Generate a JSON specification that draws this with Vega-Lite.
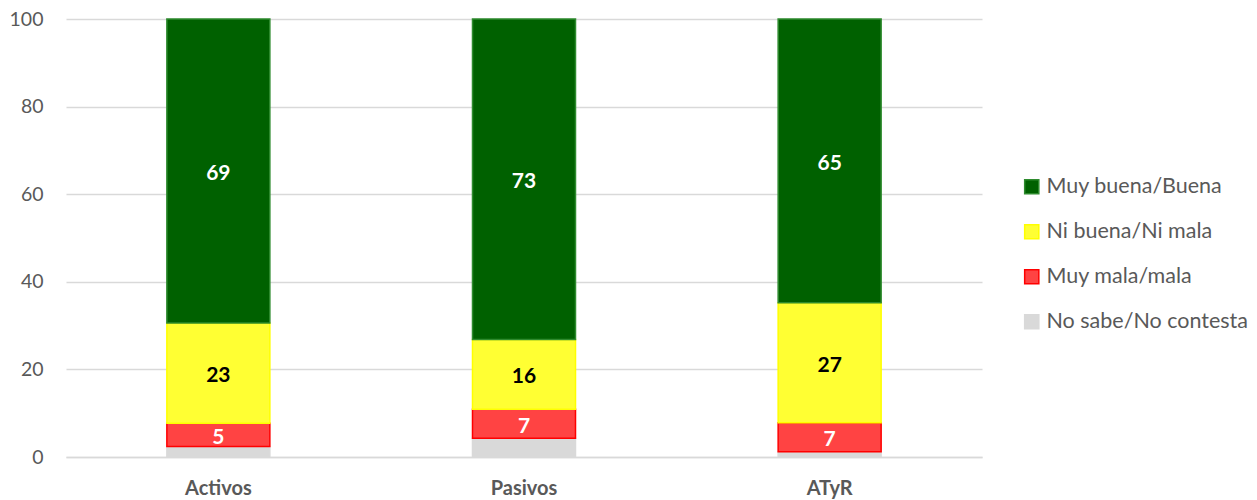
{
  "$schema": "https://vega.github.io/schema/vega-lite/v6.json",
  "autosize": {"type": "none"},
  "width": 916,
  "height": 438,
  "padding": {"left": 66, "top": 19, "right": 275, "bottom": 43},
  "background": "white",
  "config": {
    "view": {"stroke": null},
    "font": "Lato"
  },
  "data": {
    "values": [
      {"grupo": "Activos", "cat": "No sabe/No contesta", "orden": 1, "valor": 2.4},
      {"grupo": "Activos", "cat": "Muy mala/mala", "orden": 2, "valor": 5.3},
      {"grupo": "Activos", "cat": "Ni buena/Ni mala", "orden": 3, "valor": 22.9},
      {"grupo": "Activos", "cat": "Muy buena/Buena", "orden": 4, "valor": 69.4},
      {"grupo": "Pasivos", "cat": "No sabe/No contesta", "orden": 1, "valor": 4.3},
      {"grupo": "Pasivos", "cat": "Muy mala/mala", "orden": 2, "valor": 6.6},
      {"grupo": "Pasivos", "cat": "Ni buena/Ni mala", "orden": 3, "valor": 15.9},
      {"grupo": "Pasivos", "cat": "Muy buena/Buena", "orden": 4, "valor": 73.2},
      {"grupo": "ATyR", "cat": "No sabe/No contesta", "orden": 1, "valor": 1.2},
      {"grupo": "ATyR", "cat": "Muy mala/mala", "orden": 2, "valor": 6.6},
      {"grupo": "ATyR", "cat": "Ni buena/Ni mala", "orden": 3, "valor": 27.4},
      {"grupo": "ATyR", "cat": "Muy buena/Buena", "orden": 4, "valor": 64.8}
    ]
  },
  "transform": [
    {"stack": "valor", "groupby": ["grupo"], "sort": [{"field": "orden", "order": "ascending"}], "as": ["y0", "y1"]},
    {"calculate": "(datum.y0 + datum.y1) / 2", "as": "ymid"}
  ],
  "encoding": {
    "x": {
      "field": "grupo",
      "type": "nominal",
      "sort": ["Activos", "Pasivos", "ATyR"],
      "scale": {"paddingInner": 0.663, "paddingOuter": 0.33},
      "axis": {
        "title": null,
        "labelAngle": 0,
        "labelFontWeight": "bold",
        "labelFontSize": 20,
        "labelColor": "#595959",
        "labelPadding": 21,
        "ticks": false,
        "domain": true,
        "domainColor": "#D9D9D9",
        "domainWidth": 1.5
      }
    }
  },
  "layer": [
    {
      "mark": {"type": "bar", "strokeWidth": 1.5},
      "encoding": {
        "y": {
          "field": "y0",
          "type": "quantitative",
          "scale": {"domain": [0, 100]},
          "axis": {
            "title": null,
            "values": [0, 20, 40, 60, 80, 100],
            "labelFontSize": 19.5,
            "labelColor": "#595959",
            "labelPadding": 23,
            "ticks": false,
            "domain": false,
            "gridColor": "#D9D9D9",
            "gridWidth": 1.5
          }
        },
        "y2": {"field": "y1"},
        "color": {
          "field": "cat",
          "type": "nominal",
          "scale": {
            "domain": ["Muy buena/Buena", "Ni buena/Ni mala", "Muy mala/mala", "No sabe/No contesta"],
            "range": ["#006100", "#FFFF33", "#FF4343", "#D9D9D9"]
          },
          "legend": {
            "title": null,
            "orient": "none",
            "legendX": 955,
            "legendY": 157,
            "symbolType": "square",
            "symbolSize": 200,
            "symbolStrokeWidth": 1.5,
            "labelFontSize": 21.5,
            "labelColor": "#595959",
            "labelOffset": 4,
            "rowPadding": 22,
            "labelLimit": 300
          }
        },
        "stroke": {
          "field": "cat",
          "type": "nominal",
          "scale": {
            "domain": ["Muy buena/Buena", "Ni buena/Ni mala", "Muy mala/mala", "No sabe/No contesta"],
            "range": ["#2E8B2E", "#FFFF00", "#FF0000", "#D9D9D9"]
          },
          "legend": null
        }
      }
    },
    {
      "transform": [{"filter": "datum.cat !== 'No sabe/No contesta'"}],
      "mark": {"type": "text", "fontSize": 21, "fontWeight": "bold", "baseline": "middle", "dy": 3},
      "encoding": {
        "y": {"field": "ymid", "type": "quantitative"},
        "text": {"field": "valor", "type": "quantitative", "format": ".0f"},
        "color": {
          "condition": {"test": "datum.cat === 'Ni buena/Ni mala'", "value": "#000000"},
          "value": "#FFFFFF"
        }
      }
    }
  ]
}
